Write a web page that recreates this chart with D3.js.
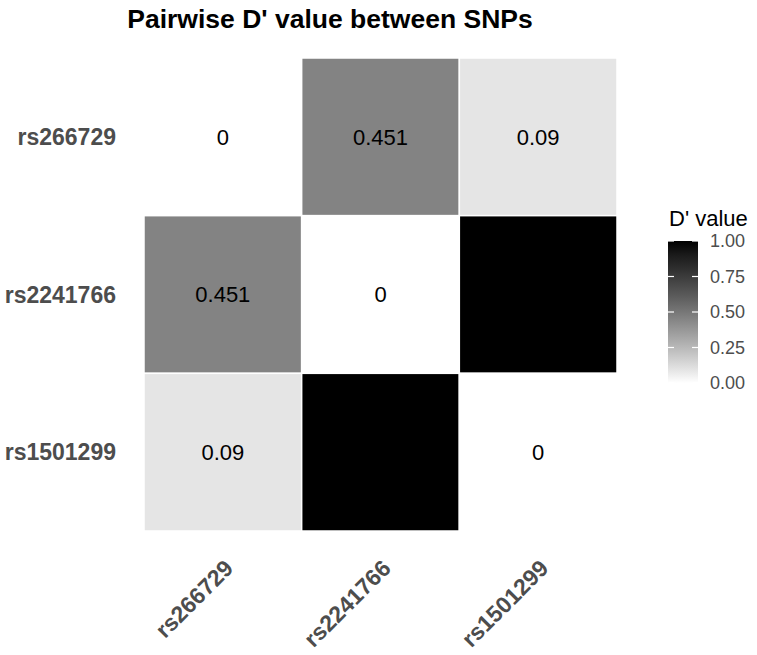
<!DOCTYPE html>
<html>
<head>
<meta charset="utf-8">
<script src="https://cdn.jsdelivr.net/npm/d3@7"></script>
<style>
  body { margin: 0; background: #fff; }
  text { font-family: "Liberation Sans", Arial, sans-serif; }
</style>
</head>
<body>
<svg width="757" height="655"></svg>
<script>
// SNP names (x left->right, y top->bottom)
var snps = ['rs266729', 'rs2241766', 'rs1501299'];
// pairwise D' values, row-major by y category
var dprime = [
  [0, 0.451, 0.09],
  [0.451, 0, 1],
  [0.09, 1, 0]
];
var legendTicks = [0, 0.25, 0.5, 0.75, 1];

var cells = [];
snps.forEach(function (rowName, i) {
  snps.forEach(function (colName, j) {
    cells.push({ x: colName, y: rowName, v: dprime[i][j] });
  });
});

var svg = d3.select('svg');
var panel = { left: 144, top: 58, size: 473 };

var x = d3.scaleBand().domain(snps).range([panel.left, panel.left + panel.size]);
var y = d3.scaleBand().domain(snps).range([panel.top, panel.top + panel.size]);
var color = d3.scaleLinear().domain([0, 1]).range(['white', 'black'])
  .interpolate(d3.interpolateLab);

svg.append('text')
  .attr('x', 330)
  .attr('y', 28)
  .attr('text-anchor', 'middle')
  .style('font-size', '26.5px')
  .style('font-weight', 'bold')
  .style('fill', '#000')
  .text("Pairwise D' value between SNPs");

svg.append('g').selectAll('rect')
  .data(cells)
  .enter()
  .append('rect')
  .attr('x', function (d) { return x(d.x); })
  .attr('y', function (d) { return y(d.y); })
  .attr('width', x.bandwidth())
  .attr('height', y.bandwidth())
  .style('fill', function (d) { return color(d.v); })
  .style('stroke', '#fff')
  .style('stroke-width', '1.5px');

svg.append('g').selectAll('text')
  .data(cells)
  .enter()
  .append('text')
  .attr('x', function (d) { return x(d.x) + x.bandwidth() / 2; })
  .attr('y', function (d) { return y(d.y) + y.bandwidth() / 2; })
  .attr('dy', '0.36em')
  .attr('text-anchor', 'middle')
  .style('font-size', '22px')
  .style('fill', '#000')
  .text(function (d) { return d.v; });

// y axis labels
svg.append('g').selectAll('text')
  .data(snps)
  .enter()
  .append('text')
  .attr('x', 116)
  .attr('y', function (d) { return y(d) + y.bandwidth() / 2; })
  .attr('dy', '0.36em')
  .attr('text-anchor', 'end')
  .style('font-size', '23px')
  .style('font-weight', 'bold')
  .style('fill', '#4d4d4d')
  .text(function (d) { return d; });

// x axis labels, rotated
svg.append('g').selectAll('text')
  .data(snps)
  .enter()
  .append('text')
  .attr('transform', function (d) {
    return 'translate(' + [x(d) + x.bandwidth() / 2, 558] + ') rotate(-45)';
  })
  .attr('dy', '0.72em')
  .attr('text-anchor', 'end')
  .style('font-size', '23px')
  .style('font-weight', 'bold')
  .style('fill', '#4d4d4d')
  .text(function (d) { return d; });

// legend
var bar = { x: 668, top: 241, bottom: 383, w: 30 };
var ly = d3.scaleLinear().domain([0, 1]).range([bar.bottom, bar.top]);

var grad = svg.append('defs').append('linearGradient')
  .attr('id', 'dgrad')
  .attr('x1', 0).attr('y1', 1).attr('x2', 0).attr('y2', 0);
d3.range(0, 1.01, 0.1).forEach(function (t) {
  grad.append('stop').attr('offset', t).attr('stop-color', color(t));
});

svg.append('text')
  .attr('x', 669)
  .attr('y', 226)
  .style('font-size', '22px')
  .style('fill', '#000')
  .text("D' value");

svg.append('rect')
  .attr('x', bar.x)
  .attr('y', bar.top)
  .attr('width', bar.w)
  .attr('height', bar.bottom - bar.top)
  .style('fill', 'url(#dgrad)');

var ticks = svg.append('g').selectAll('g')
  .data(legendTicks)
  .enter()
  .append('g');
ticks.append('line')
  .attr('x1', bar.x).attr('x2', bar.x + 6)
  .attr('y1', function (d) { return ly(d); })
  .attr('y2', function (d) { return ly(d); })
  .style('stroke', '#fff').style('stroke-width', '1.2px');
ticks.append('line')
  .attr('x1', bar.x + bar.w - 6).attr('x2', bar.x + bar.w)
  .attr('y1', function (d) { return ly(d); })
  .attr('y2', function (d) { return ly(d); })
  .style('stroke', '#fff').style('stroke-width', '1.2px');
ticks.append('text')
  .attr('x', 710)
  .attr('y', function (d) { return ly(d); })
  .attr('dy', '0.36em')
  .style('font-size', '18px')
  .style('fill', '#4d4d4d')
  .text(function (d) { return d3.format('.2f')(d); });
</script>
</body>
</html>
